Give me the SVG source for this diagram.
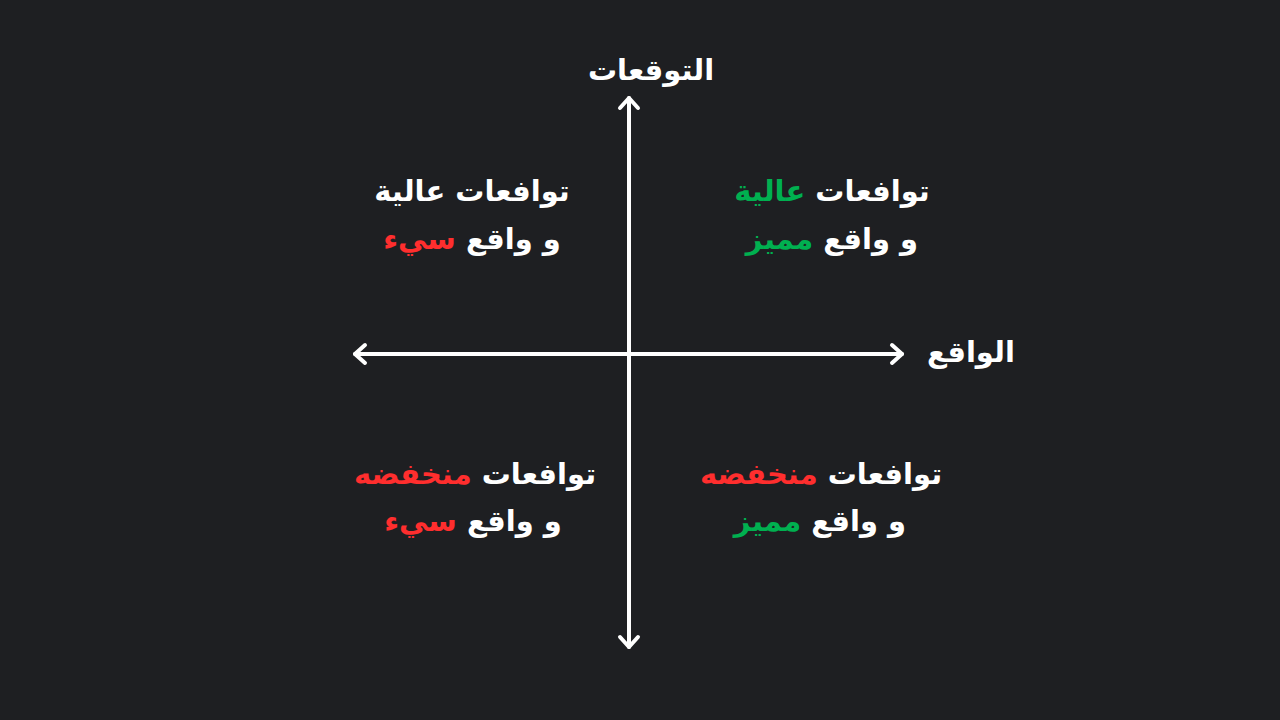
<svg xmlns="http://www.w3.org/2000/svg" width="1280" height="720" viewBox="0 0 1280 720">
<style>
.t{font-family:"DejaVu Sans",sans-serif;font-weight:bold;font-size:29px;fill:#ffffff;text-anchor:middle;direction:rtl}
.g{fill:#00b050}
.r{fill:#ff2e2e}
.ax{stroke:#ffffff;stroke-width:4;stroke-linecap:round;stroke-linejoin:round;fill:none}
</style>
<rect width="1280" height="720" fill="#1e1f22"/>
<g id="connectors">
<path class="ax" d="M629 98 V647"/>
<path class="ax" d="M620 108 L629 98 L638 108"/>
<path class="ax" d="M620 637 L629 647 L638 637"/>
<path class="ax" d="M355 354 H902"/>
<path class="ax" d="M365 345 L355 354 L365 363"/>
<path class="ax" d="M892 345 L902 354 L892 363"/>
</g>
<g id="axis-y-label"><text class="t" x="651" y="80">التوقعات</text></g>
<g id="axis-x-label"><text class="t" x="971" y="362">الواقع</text></g>
<g id="q-top-left">
<text class="t" x="472" y="201">توافعات عالية</text>
<text class="t" x="472" y="249">و واقع <tspan class="r">سيء</tspan></text>
</g>
<g id="q-top-right">
<text class="t" x="832" y="201">توافعات <tspan class="g">عالية</tspan></text>
<text class="t" x="832" y="249">و واقع <tspan class="g">مميز</tspan></text>
</g>
<g id="q-bottom-left">
<text class="t" x="475" y="484">توافعات <tspan class="r">منخفضه</tspan></text>
<text class="t" x="473" y="531">و واقع <tspan class="r">سيء</tspan></text>
</g>
<g id="q-bottom-right">
<text class="t" x="821" y="484">توافعات <tspan class="r">منخفضه</tspan></text>
<text class="t" x="820" y="531">و واقع <tspan class="g">مميز</tspan></text>
</g>
</svg>
